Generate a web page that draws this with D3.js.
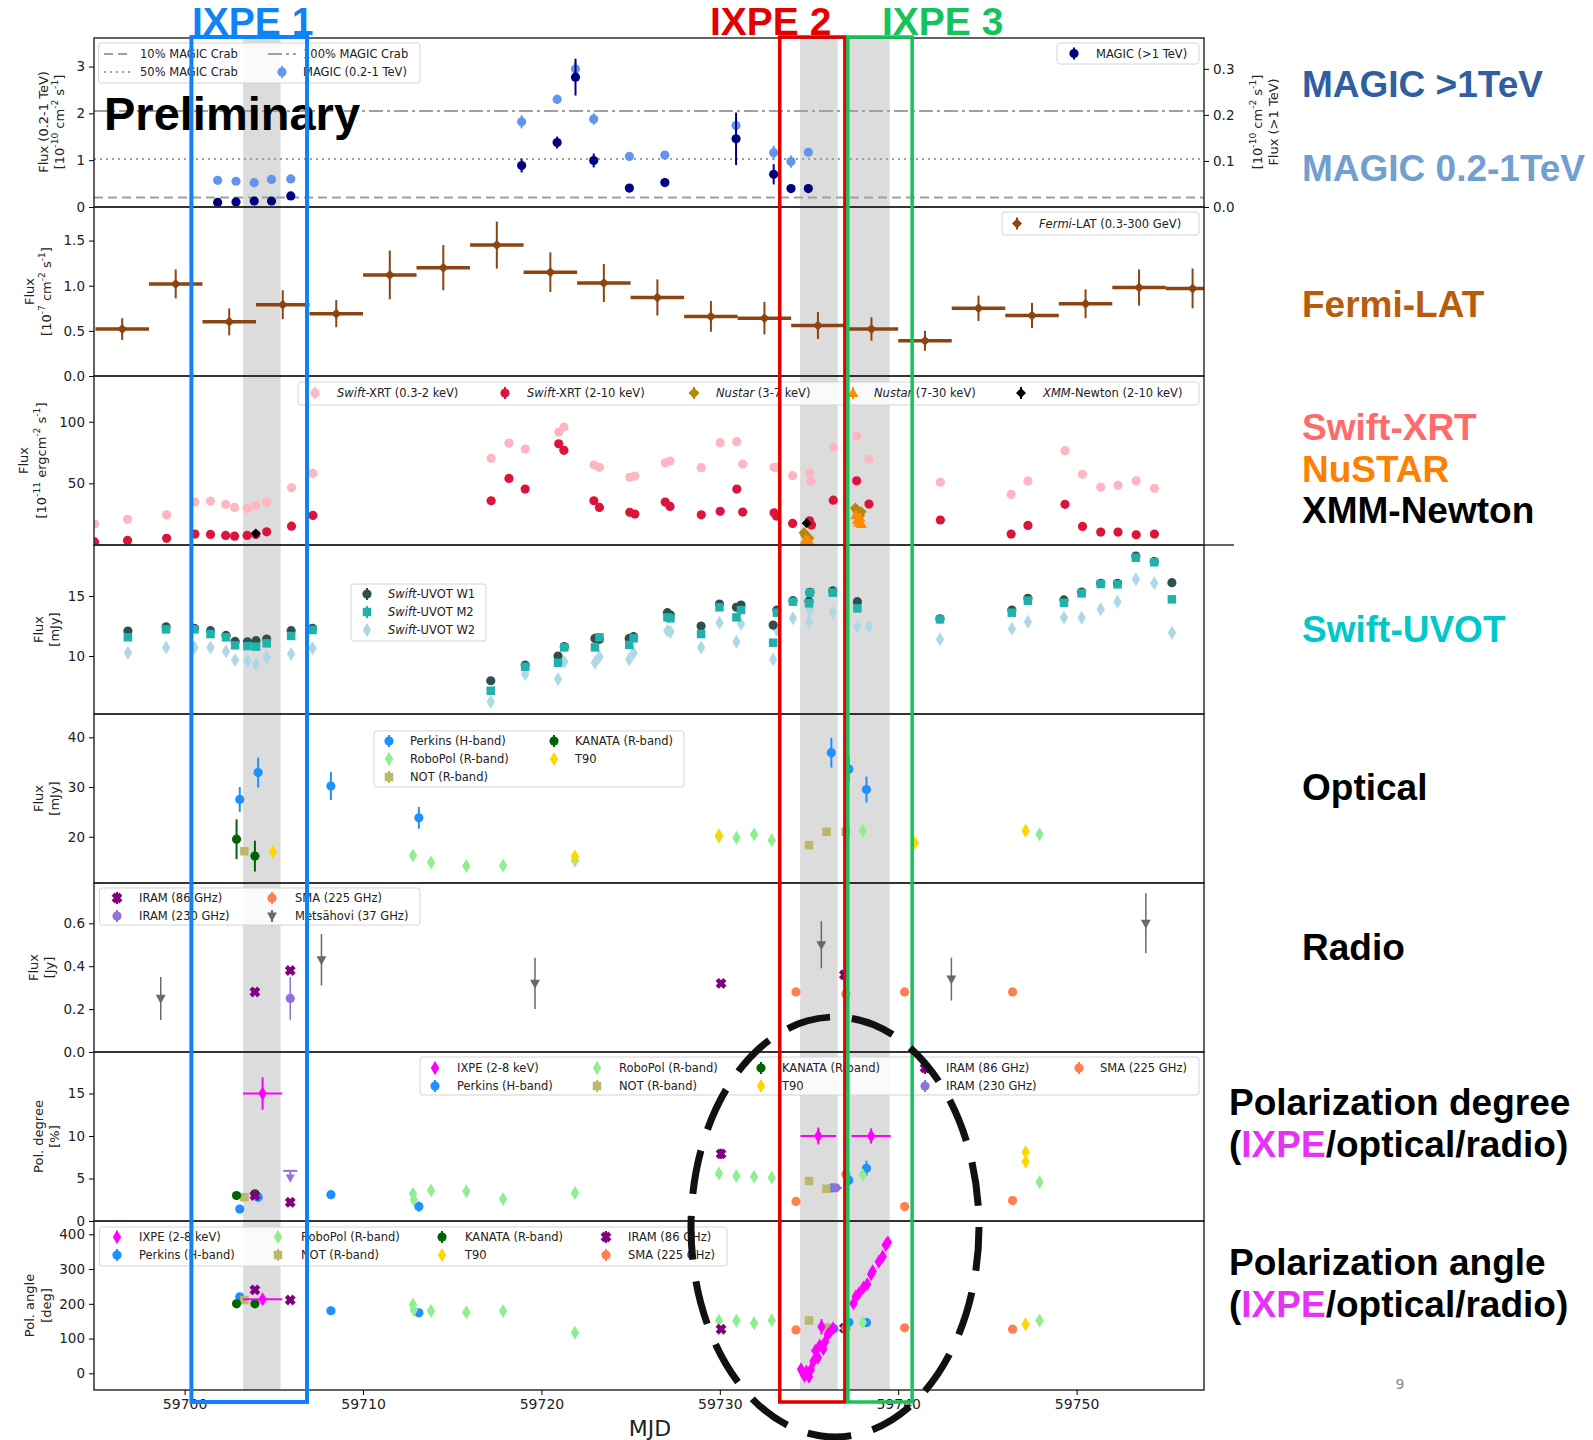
<!DOCTYPE html>
<html lang="en">
<head>
<meta charset="UTF-8">
<title>Multiwavelength light curves with IXPE windows</title>
<script src="https://d3js.org/d3.v7.min.js"></script>
<style>
  body { margin: 0; background: #fff; }
  text { font-family: "DejaVu Sans", sans-serif; }
  .big { font-family: "Liberation Sans", Arial, sans-serif; font-weight: bold; }
</style>
</head>
<body>
<div id="chart"></div>
<script>
// ---------------- data (MJD, value, yerr, xerr) ----------------
const mjdDomain = [59694.92, 59757.14];
const xTicks = [59700, 59710, 59720, 59730, 59740, 59750];
const ixpeWindows = [[59703.28, 59705.38], [59734.5, 59736.61], [59737.3, 59739.52]];

// MAGIC
const crabLevels = [0.205, 1.025, 2.05]; // 10%, 50%, 100% Crab (0.2-1 TeV units)
const magicLow = [[59701.85,0.57,0.06],[59702.88,0.55,0.06],[59703.9,0.52,0.06],[59704.87,0.59,0.06],[59705.95,0.60,0.06],
  [59718.89,1.82,0.14],[59720.88,2.30,0.10],[59721.91,2.95,0.15],[59722.93,1.88,0.12],[59724.93,1.08,0.07],
  [59726.92,1.11,0.07],[59730.91,1.74,0.15],[59733.02,1.16,0.15],[59733.99,0.97,0.13],[59734.96,1.17,0.07]];
const magicHigh = [[59701.85,0.010,0.003],[59702.88,0.011,0.003],[59703.9,0.013,0.003],[59704.87,0.013,0.003],[59705.95,0.024,0.004],
  [59718.89,0.090,0.015],[59720.88,0.140,0.013],[59721.91,0.282,0.04],[59722.93,0.101,0.015],[59724.93,0.041,0.009],
  [59726.92,0.053,0.009],[59730.91,0.148,0.057],[59733.02,0.071,0.022],[59733.99,0.040,0.008],[59734.96,0.040,0.006]];

// Fermi-LAT, 3-day bins
const fermiMjd = [59696.5,59699.5,59702.5,59705.5,59708.5,59711.5,59714.5,59717.5,59720.5,59723.5,59726.5,
  59729.5,59732.5,59735.5,59738.5,59741.5,59744.5,59747.5,59750.5,59753.5,59756.5];
const fermiFlux = [0.52,1.02,0.60,0.79,0.69,1.12,1.20,1.45,1.15,1.03,0.87,0.66,0.64,0.56,0.52,0.39,0.75,0.67,0.80,0.98,0.97];
const fermiErr = [0.12,0.16,0.15,0.16,0.15,0.27,0.25,0.26,0.22,0.21,0.20,0.17,0.18,0.15,0.13,0.11,0.14,0.14,0.16,0.20,0.22];

// X-ray
const xrtSoft = [[59694.95,17],[59696.8,20.8],[59698.99,24.5],[59700.58,34.8],[59701.45,35.6],[59702.3,33],[59702.8,30.5],
  [59703.5,29.7],[59703.99,32.1],[59704.6,34.8],[59705.99,46.4],[59707.19,58.1],[59717.18,70.3],[59718.18,82.7],[59719.09,77.8],
  [59720.97,91.6],[59721.26,95.7],[59722.94,65.1],[59723.25,63],[59724.95,54.9],[59725.24,55.9],[59726.94,66.7],[59727.21,68.1],
  [59728.96,62.7],[59730.02,83],[59730.95,83.8],[59731.28,65.7],[59733.04,63],[59733.2,63],[59734.08,56.2],[59735.03,58.6],
  [59735.1,51.9],[59736.36,79.2],[59737.67,88.4],[59738.36,69.5],[59742.36,51],[59746.33,41],[59747.27,51.9],[59749.35,76.5],
  [59750.33,57.3],[59751.35,47],[59752.32,48.4],[59753.34,52.1],[59754.36,46]];
const xrtHard = [[59694.95,2.5],[59696.8,3.7],[59698.99,5.4],[59700.58,8.9],[59701.45,8.6],[59702.3,7.8],[59702.8,7.2],
  [59703.5,7.8],[59703.99,8.5],[59704.6,10.7],[59705.99,15.3],[59707.19,24],[59717.18,35.9],[59718.18,54],[59719.09,45.4],
  [59720.97,82.1],[59721.26,76.8],[59722.94,35.9],[59723.25,30.5],[59724.95,26.5],[59725.24,25.1],[59726.94,34.8],[59727.21,31.3],
  [59728.96,24.5],[59730.02,27.3],[59730.95,45.4],[59731.28,26.7],[59733.04,26.1],[59733.17,23.5],[59734.08,17.5],[59735.03,19.6],
  [59735.14,16.2],[59736.36,36.4],[59737.67,52.1],[59738.36,33.2],[59742.36,20.3],[59746.33,8.9],[59747.27,15.9],[59749.35,33],
  [59750.33,15.1],[59751.35,10.5],[59752.32,10.5],[59753.34,8.3],[59754.36,8.9]];
const nustarLow = [[59734.72,10],[59734.8,8],[59734.9,6],[59735.0,5.5],[59737.6,30],[59737.68,28],[59737.76,26],[59737.84,24],[59737.92,27]];
const nustarHigh = [[59734.8,4],[59734.9,3.2],[59735.0,3],[59737.62,24],[59737.7,20],[59737.78,18],[59737.86,22],[59737.94,17]];
const xmm = [[59703.99,9.4],[59734.87,17.6]];

// Swift-UVOT
const uvotMjd = [59696.82,59698.96,59700.55,59701.45,59702.32,59702.83,59703.52,59704.0,59704.6,59705.97,59707.17,
  59717.16,59719.09,59720.93,59721.28,59723.0,59723.25,59724.92,59725.17,59727.06,59727.23,59728.95,59729.98,59730.93,
  59731.19,59732.99,59733.2,59734.1,59735.0,59735.05,59736.33,59737.71,59742.34,59746.37,59747.27,59749.29,59750.28,
  59751.35,59752.29,59753.32,59754.35,59755.34];
const uvotW1 = [12.08,12.44,12.31,12.11,11.72,11.22,11.19,11.28,11.42,12.11,12.31,7.94,9.25,10.0,10.78,11.47,11.39,11.47,11.61,
  13.61,13.42,12.5,14.33,14.06,14.25,12.58,13.83,14.61,14.56,15.31,15.44,14.53,13.1,13.83,14.81,14.67,15.33,16.06,16.06,18.33,17.86,16.11];
const uvotM2 = [11.56,12.22,12.22,11.83,11.56,10.89,10.83,10.78,11.06,11.67,12.17,7.11,9.11,9.44,10.72,10.72,11.56,10.92,11.47,
  13.22,13.14,11.83,14.06,13.22,13.83,11.11,13.61,14.53,14.39,15.28,15.28,13.97,13.06,13.61,14.61,14.44,15.22,16.0,15.97,18.19,17.81,14.72];
const uvotW2 = [10.28,10.72,10.72,10.72,10.39,9.67,9.58,9.33,9.89,10.17,10.64,6.19,8.5,8.08,9.53,9.44,9.94,9.72,10.28,
  12.11,12.03,10.72,12.78,11.19,12.67,9.72,12.17,13.14,12.86,13.83,13.61,12.44,11.39,12.28,12.86,13.22,13.19,13.89,14.53,16.39,16.06,11.94];
const uvotW2only = [[59738.35,12.44]];

// Optical flux
const perkinsFlux = [[59703.09,27.5,2.5],[59704.12,32.9,3.0],[59708.2,30.2,2.8],[59713.13,23.8,2.2],[59736.25,36.9,3.0],[59737.23,33.6,2.6],[59738.22,29.5,2.6]];
const kanataFlux = [[59702.91,19.5,4.0],[59703.94,16.1,3.1]];
const robopolFlux = [[59712.8,16.2,0.8],[59713.81,14.8,0.6],[59715.79,14.1,0.5],[59717.85,14.2,0.5],[59721.88,15.2,0.6],[59729.95,20.0,0.6],
  [59730.93,19.8,0.6],[59731.92,20.5,0.6],[59732.91,19.3,0.6],[59738.01,21.2,0.6],[59747.92,20.5,0.6]];
const t90Flux = [[59704.94,17.0,0.8],[59721.88,16.0,0.8],[59729.95,20.3,0.8],[59740.93,18.8,0.8],[59747.14,21.2,1.0]];
const notFlux = [[59703.35,17.1],[59735.0,18.3],[59735.98,21.0],[59737.05,21.0]];

// Radio flux
const metsFlux = [[59698.66,0.25,0.10],[59707.67,0.43,0.12],[59719.64,0.32,0.12],[59735.69,0.50,0.11],[59742.98,0.34,0.10],[59753.88,0.60,0.14]];
const iram86Flux = [[59703.94,0.28,0.012],[59705.92,0.38,0.015],[59730.07,0.32,0.012],[59736.98,0.36,0.012]];
const iram230Flux = [[59705.92,0.25,0.10]];
const smaFlux = [[59734.27,0.28,0.015],[59737.06,0.27,0.015],[59740.36,0.28,0.015],[59746.41,0.28,0.015]];

// Polarization degree [%]
const ixpeDeg = [[59704.37,15.0,1.9,1.1],[59735.52,10.0,1.0,1.0],[59738.48,10.0,0.9,1.1]];
const perkinsDeg = [[59703.09,1.4,0.4],[59704.12,2.8,0.5],[59708.2,3.1,0.5],[59713.13,1.7,0.6],[59736.3,3.9,0.5],[59737.23,4.8,0.6],[59738.22,6.2,0.9]];
const robopolDeg = [[59712.8,3.2,0.5],[59712.85,2.5,0.5],[59713.81,3.6,0.5],[59715.79,3.5,0.5],[59717.85,2.6,0.5],[59721.88,3.3,0.5],
  [59729.95,5.6,0.5],[59730.93,5.3,0.5],[59731.92,5.2,0.5],[59732.91,5.1,0.5],[59738.01,5.4,0.5],[59747.92,4.6,0.5]];
const kanataDeg = [[59702.91,3.0,0.3],[59703.94,3.2,0.4]];
const notDeg = [[59703.35,2.8],[59735.0,4.7],[59735.98,3.8]];
const t90Deg = [[59747.14,8.1,0.6],[59747.14,7.0,0.6]];
const iram86Deg = [[59703.94,3.0,0.4],[59705.92,2.2,0.4],[59730.07,7.9,0.6]];
const iram230Deg = [[59736.5,3.9,0,0.35]];
const iram230DegLimit = [[59705.92,5.9]];
const smaDeg = [[59734.27,2.3,0.3],[59737.06,5.5,0.3],[59740.36,1.7,0.3],[59746.41,2.4,0.3]];

// Polarization angle [deg]
const ixpeAng = [[59704.37,213,6,1.1],
  [59734.55,12,10],[59734.65,3,10],[59734.75,-8,10],[59734.85,5,10],[59735.0,-10,10],[59735.1,10,12],[59735.25,35,14],
  [59735.35,65,15],[59735.5,45,15],[59735.6,80,14],[59735.7,134,22],[59735.8,70,14],[59735.9,90,14],[59736.05,112,12],
  [59736.2,120,12],[59736.35,130,12],
  [59737.49,201,10],[59737.62,221,10],[59737.79,230,10],[59738.05,247,10],[59738.26,256,10],[59738.48,285,10],
  [59738.57,294,10],[59738.91,321,10],[59739.13,336,10],[59739.3,369,10],[59739.42,377,10]];
const perkinsAng = [[59703.09,220,5],[59708.2,180,5],[59713.13,174,8],[59736.4,128,6],[59737.23,147,6],[59738.22,146,6]];
const robopolAng = [[59712.8,197,6],[59712.85,182,6],[59713.81,179,6],[59715.79,176,6],[59717.85,179,6],[59721.88,117,6],
  [59729.95,151,6],[59730.93,151,6],[59731.92,144,6],[59732.91,153,6],[59738.01,146,6],[59747.92,152,6]];
const kanataAng = [[59702.91,200,5],[59703.94,200,5]];
const notAng = [[59703.35,211],[59735.0,152],[59735.98,132]];
const t90Ang = [[59747.14,141,8]];
const iram86Ang = [[59703.94,240,6],[59705.92,211,6],[59730.07,127,6],[59736.98,130,6]];
const smaAng = [[59734.27,125,5],[59737.06,130,5],[59740.36,131,5],[59746.41,127,5]];

// ---------------- styles ----------------
const st = {
  magicLow: {color: "#6495ed", shape: "o", r: 4.6},
  magicHigh: {color: "#000080", shape: "o", r: 4.6},
  fermi: {color: "#8b4513", shape: "D", r: 5},
  xrtSoft: {color: "#ffb6c1", shape: "o", r: 4.6},
  xrtHard: {color: "#dc143c", shape: "o", r: 4.6},
  nustarLow: {color: "#b8860b", shape: "D", r: 5.5},
  nustarHigh: {color: "#ff8c00", shape: "^", r: 6},
  xmm: {color: "#000000", shape: "D", r: 5},
  w1: {color: "#2f4f4f", shape: "o", r: 4.6},
  m2: {color: "#20b2aa", shape: "s", r: 5},
  w2: {color: "#add8e6", shape: "d", r: 7},
  perkins: {color: "#1e90ff", shape: "o", r: 4.6},
  robopol: {color: "#90ee90", shape: "d", r: 7},
  kanata: {color: "#006400", shape: "o", r: 4.6},
  not: {color: "#bdb76b", shape: "s", r: 5},
  t90: {color: "#ffd700", shape: "d", r: 7},
  iram86: {color: "#800080", shape: "X", r: 5.5},
  iram230: {color: "#9370db", shape: "o", r: 4.6},
  sma: {color: "#ff7f50", shape: "o", r: 4.6},
  mets: {color: "#696969", shape: "v", r: 5.5},
  ixpe: {color: "#ff00ff", shape: "d", r: 7}
};

// ---------------- layout ----------------
const W = 1593, H = 1440;
const plotLeft = 94, plotRight = 1204, plotTop = 38, panelH = 169;
const x = d3.scaleLinear().domain(mjdDomain).range([plotLeft, plotRight]);

const panelDefs = [
  {domain: [0, 3.61], ticks: [0, 1, 2, 3], fmt: d3.format("d"), label: ["Flux (0.2-1 TeV)", "[10^{-10} cm^{-2} s^{-1}]"], lx: [43, 59], ly: 122},
  {domain: [0, 1.872], ticks: [0, 0.5, 1.0, 1.5], fmt: d3.format(".1f"), label: ["Flux", "[10^{-7} cm^{-2} s^{-1}]"], lx: [29, 46]},
  {domain: [0, 137.1], ticks: [50, 100], fmt: d3.format("d"), label: ["Flux", "[10^{-11} ergcm^{-2} s^{-1}]"], lx: [23, 41]},
  {domain: [5.17, 19.25], ticks: [10, 15], fmt: d3.format("d"), label: ["Flux", "[mJy]"], lx: [38, 54]},
  {domain: [10.69, 44.69], ticks: [20, 30, 40], fmt: d3.format("d"), label: ["Flux", "[mJy]"], lx: [38, 54]},
  {domain: [0, 0.788], ticks: [0, 0.2, 0.4, 0.6], fmt: d3.format(".1f"), label: ["Flux", "[Jy]"], lx: [33, 49]},
  {domain: [0, 19.88], ticks: [0, 5, 10, 15], fmt: d3.format("d"), label: ["Pol. degree", "[%]"], lx: [38, 54]},
  {domain: [-48, 438.3], ticks: [0, 100, 200, 300, 400], fmt: d3.format("d"), label: ["Pol. angle", "[deg]"], lx: [29, 46]}
];

const svg = d3.select("#chart").append("svg").attr("width", W).attr("height", H);
svg.append("rect").attr("width", W).attr("height", H).attr("fill", "#fff");
const defs = svg.append("defs");

const panels = panelDefs.map((p, i) => {
  const top = plotTop + i * panelH;
  const y = d3.scaleLinear().domain(p.domain).range([top + panelH, top]);
  defs.append("clipPath").attr("id", "clip" + i).append("rect")
    .attr("x", plotLeft).attr("y", top).attr("width", plotRight - plotLeft).attr("height", panelH);
  return Object.assign({}, p, {top, y, i});
});
const yMagicRight = d3.scaleLinear().domain([0, 0.367]).range([plotTop + panelH, plotTop]);

// IXPE observation windows (grey bands)
svg.append("g").selectAll("rect").data(ixpeWindows).join("rect")
  .attr("x", d => x(d[0])).attr("width", d => x(d[1]) - x(d[0]))
  .attr("y", plotTop).attr("height", panelH * 8)
  .attr("fill", "#dcdcdc");

// ---------------- helpers ----------------
function markerPath(shape, r) {
  switch (shape) {
    case "D": return `M0,${-r}L${r},0L0,${r}L${-r},0Z`;
    case "d": return `M0,${-r}L${r * 0.6},0L0,${r}L${-r * 0.6},0Z`;
    case "s": { const s = r * 0.85; return `M${-s},${-s}H${s}V${s}H${-s}Z`; }
    case "^": return `M0,${-r}L${r * 0.9},${r * 0.65}L${-r * 0.9},${r * 0.65}Z`;
    case "v": return `M0,${r}L${r * 0.9},${-r * 0.65}L${-r * 0.9},${-r * 0.65}Z`;
    case "X": { const a = r * 0.4;
      return `M${-a},${-r}H${a}V${-a}H${r}V${a}H${a}V${r}H${-a}V${a}H${-r}V${-a}H${-a}Z`; }
    default: return `M${r},0A${r},${r} 0 1,1 ${-r},0A${r},${r} 0 1,1 ${r},0Z`;
  }
}

function plotSeries(layer, y, data, s, opt = {}) {
  const g = layer.append("g");
  g.selectAll("line.ye").data(data.filter(d => d[2] > 0)).join("line").attr("class", "ye")
    .attr("x1", d => x(d[0])).attr("x2", d => x(d[0]))
    .attr("y1", d => y(d[1] - d[2])).attr("y2", d => y(d[1] + d[2]))
    .attr("stroke", s.color).attr("stroke-width", opt.ew || 2);
  g.selectAll("line.xe").data(data.filter(d => d[3] > 0)).join("line").attr("class", "xe")
    .attr("x1", d => x(d[0] - d[3])).attr("x2", d => x(d[0] + d[3]))
    .attr("y1", d => y(d[1])).attr("y2", d => y(d[1]))
    .attr("stroke", s.color).attr("stroke-width", opt.xw || 2);
  g.selectAll("path").data(data).join("path")
    .attr("d", markerPath(s.shape, s.r))
    .attr("transform", d => `translate(${x(d[0])},${y(d[1])})${s.shape === "X" ? " rotate(45)" : ""}`)
    .attr("fill", s.color);
}

function richText(t, str, fs) {
  const re = /\^\{([^}]*)\}/g;
  let last = 0, m, shift = 0;
  while ((m = re.exec(str))) {
    if (m.index > last) t.append("tspan").attr("dy", shift ? fs * 0.42 : null).text(str.slice(last, m.index)), shift = 0;
    t.append("tspan").attr("dy", -fs * 0.42).attr("font-size", fs * 0.7).text(m[1]);
    shift = 1;
    last = re.lastIndex;
  }
  if (last < str.length) t.append("tspan").attr("dy", shift ? fs * 0.42 : null).text(str.slice(last));
}

// ---------------- panels ----------------
panels.forEach(p => { p.layer = svg.append("g").attr("clip-path", `url(#clip${p.i})`); });

// MAGIC
const [pM, pF, pX, pU, pO, pR, pD, pA] = panels;
const crabStyles = ["9 5", "2 4", "14 4 3 4"];
pM.layer.selectAll("line.crab").data(crabLevels).join("line")
  .attr("x1", plotLeft).attr("x2", plotRight)
  .attr("y1", d => pM.y(d)).attr("y2", d => pM.y(d))
  .attr("stroke", "#a0a0a0").attr("stroke-width", 2)
  .attr("stroke-dasharray", (d, i) => crabStyles[i]);
plotSeries(pM.layer, pM.y, magicLow, st.magicLow);
plotSeries(pM.layer, yMagicRight, magicHigh, st.magicHigh);

// Fermi
const fermiData = fermiMjd.map((m, i) => [m, fermiFlux[i], fermiErr[i], 1.5]);
plotSeries(pF.layer, pF.y, fermiData, st.fermi, {ew: 2, xw: 3.5});

// X-ray
plotSeries(pX.layer, pX.y, xrtSoft, st.xrtSoft);
plotSeries(pX.layer, pX.y, xrtHard, st.xrtHard);
plotSeries(pX.layer, pX.y, nustarLow, st.nustarLow);
plotSeries(pX.layer, pX.y, nustarHigh, st.nustarHigh);
plotSeries(pX.layer, pX.y, xmm, st.xmm);

// UVOT
plotSeries(pU.layer, pU.y, uvotMjd.map((m, i) => [m, uvotW2[i], 0.2]), st.w2);
plotSeries(pU.layer, pU.y, uvotW2only.map(d => [d[0], d[1], 0.2]), st.w2);
plotSeries(pU.layer, pU.y, uvotMjd.map((m, i) => [m, uvotW1[i], 0.25]), st.w1);
plotSeries(pU.layer, pU.y, uvotMjd.map((m, i) => [m, uvotM2[i], 0.25]), st.m2);

// Optical
plotSeries(pO.layer, pO.y, perkinsFlux, st.perkins);
plotSeries(pO.layer, pO.y, robopolFlux, st.robopol);
plotSeries(pO.layer, pO.y, notFlux, st.not);
plotSeries(pO.layer, pO.y, kanataFlux, st.kanata);
plotSeries(pO.layer, pO.y, t90Flux, st.t90);

// Radio
plotSeries(pR.layer, pR.y, iram86Flux, st.iram86);
plotSeries(pR.layer, pR.y, iram230Flux, st.iram230, {ew: 1.5});
plotSeries(pR.layer, pR.y, smaFlux, st.sma);
plotSeries(pR.layer, pR.y, metsFlux, st.mets, {ew: 1.5});

// Polarization degree
plotSeries(pD.layer, pD.y, perkinsDeg, st.perkins);
plotSeries(pD.layer, pD.y, robopolDeg, st.robopol);
plotSeries(pD.layer, pD.y, notDeg, st.not);
plotSeries(pD.layer, pD.y, kanataDeg, st.kanata);
plotSeries(pD.layer, pD.y, t90Deg, st.t90);
plotSeries(pD.layer, pD.y, iram86Deg, st.iram86);
plotSeries(pD.layer, pD.y, iram230Deg, st.iram230);
plotSeries(pD.layer, pD.y, smaDeg, st.sma);
iram230DegLimit.forEach(d => {
  const g = pD.layer.append("g").attr("stroke", st.iram230.color).attr("stroke-width", 2);
  g.append("line").attr("x1", x(d[0]) - 7).attr("x2", x(d[0]) + 7).attr("y1", pD.y(d[1])).attr("y2", pD.y(d[1]));
  g.append("line").attr("x1", x(d[0])).attr("x2", x(d[0])).attr("y1", pD.y(d[1])).attr("y2", pD.y(d[1] - 0.9));
  pD.layer.append("path").attr("d", markerPath("v", 5)).attr("fill", st.iram230.color)
    .attr("transform", `translate(${x(d[0])},${pD.y(d[1] - 0.8)})`);
});
plotSeries(pD.layer, pD.y, ixpeDeg, st.ixpe);

// Polarization angle
plotSeries(pA.layer, pA.y, perkinsAng, st.perkins);
plotSeries(pA.layer, pA.y, robopolAng, st.robopol);
plotSeries(pA.layer, pA.y, notAng, st.not);
plotSeries(pA.layer, pA.y, kanataAng, st.kanata);
plotSeries(pA.layer, pA.y, t90Ang, st.t90);
plotSeries(pA.layer, pA.y, iram86Ang, st.iram86);
plotSeries(pA.layer, pA.y, smaAng, st.sma);
plotSeries(pA.layer, pA.y, ixpeAng, st.ixpe);

// ---------------- axes and frames ----------------
panels.forEach(p => {
  svg.append("rect").attr("x", plotLeft).attr("y", p.top).attr("width", plotRight - plotLeft).attr("height", panelH)
    .attr("fill", "none").attr("stroke", "#222").attr("stroke-width", 1.4);
  const ax = svg.append("g").attr("transform", `translate(${plotLeft},0)`)
    .call(d3.axisLeft(p.y).tickValues(p.ticks).tickFormat(p.fmt).tickSize(5).tickPadding(4));
  ax.select(".domain").remove();
  ax.selectAll("text").attr("font-size", 13.5).attr("fill", "#222").attr("font-family", "DejaVu Sans, sans-serif");
  const cy = p.ly || (p.top + panelH / 2);
  p.label.forEach((lab, k) => {
    const t = svg.append("text").attr("transform", `translate(${p.lx[k]},${cy}) rotate(-90)`)
      .attr("text-anchor", "middle").attr("dy", "0.35em").attr("font-size", 13).attr("fill", "#222");
    richText(t, lab, 13);
  });
});
// right axis for MAGIC >1 TeV
const axR = svg.append("g").attr("transform", `translate(${plotRight},0)`)
  .call(d3.axisRight(yMagicRight).tickValues([0, 0.1, 0.2, 0.3]).tickFormat(d3.format(".1f")).tickSize(5).tickPadding(4));
axR.select(".domain").remove();
axR.selectAll("text").attr("font-size", 13.5).attr("fill", "#222");
[["[10^{-10} cm^{-2} s^{-1}]", 1257], ["Flux (>1 TeV)", 1273]].forEach(([lab, lx]) => {
  const t = svg.append("text").attr("transform", `translate(${lx},122) rotate(-90)`)
    .attr("text-anchor", "middle").attr("dy", "0.35em").attr("font-size", 13).attr("fill", "#222");
  richText(t, lab, 13);
});
svg.append("line").attr("x1", plotRight).attr("x2", plotRight + 30).attr("y1", pU.top).attr("y2", pU.top)
  .attr("stroke", "#222").attr("stroke-width", 1.4);

// bottom x axis
const axB = svg.append("g").attr("transform", `translate(0,${plotTop + panelH * 8})`)
  .call(d3.axisBottom(x).tickValues(xTicks).tickFormat(d3.format("d")).tickSize(5).tickPadding(4));
axB.select(".domain").remove();
axB.selectAll("text").attr("font-size", 14).attr("fill", "#222");
svg.append("text").attr("x", 650).attr("y", 1436).attr("text-anchor", "middle")
  .attr("font-size", 22).attr("fill", "#222").text("MJD");

// ---------------- legends ----------------
function drawLegend(box, items) {
  const g = svg.append("g");
  g.append("rect").attr("x", box[0]).attr("y", box[1]).attr("width", box[2] - box[0]).attr("height", box[3] - box[1])
    .attr("rx", 3).attr("fill", "#fff").attr("fill-opacity", 0.85).attr("stroke", "#d4d4d4");
  items.forEach(it => {
    if (it.dash) {
      g.append("line").attr("x1", it.mx - 14).attr("x2", it.mx + 14).attr("y1", it.y).attr("y2", it.y)
        .attr("stroke", "#a0a0a0").attr("stroke-width", 2).attr("stroke-dasharray", it.dash);
    } else {
      g.append("line").attr("x1", it.mx).attr("x2", it.mx).attr("y1", it.y - 6).attr("y2", it.y + 6)
        .attr("stroke", it.s.color).attr("stroke-width", 2);
      g.append("path").attr("d", markerPath(it.s.shape, it.s.r))
        .attr("transform", `translate(${it.mx},${it.y})${it.s.shape === "X" ? " rotate(45)" : ""}`)
        .attr("fill", it.s.color);
    }
    const t = g.append("text").attr("x", it.tx).attr("y", it.y).attr("dy", "0.35em")
      .attr("font-size", 11.5).attr("fill", "#222");
    it.label.split("*").forEach((seg, k) => {
      if (seg) t.append("tspan").attr("font-style", k % 2 ? "italic" : null).text(seg);
    });
  });
}

drawLegend([98.5, 43, 420, 83], [
  {dash: crabStyles[0], mx: 118, y: 54, tx: 140, label: "10% MAGIC Crab"},
  {dash: crabStyles[1], mx: 118, y: 72, tx: 140, label: "50% MAGIC Crab"},
  {dash: crabStyles[2], mx: 282, y: 54, tx: 303, label: "100% MAGIC Crab"},
  {s: st.magicLow, mx: 282, y: 72, tx: 303, label: "MAGIC (0.2-1 TeV)"}
]);
drawLegend([1057, 43, 1199, 64], [{s: st.magicHigh, mx: 1074, y: 53.5, tx: 1096, label: "MAGIC (>1 TeV)"}]);
drawLegend([1002, 212, 1199, 235], [{s: st.fermi, mx: 1017, y: 223.5, tx: 1039, label: "*Fermi*-LAT (0.3-300 GeV)"}]);
drawLegend([298, 382, 1199, 405], [
  {s: st.xrtSoft, mx: 315, y: 393, tx: 337, label: "*Swift*-XRT (0.3-2 keV)"},
  {s: st.xrtHard, mx: 505, y: 393, tx: 527, label: "*Swift*-XRT (2-10 keV)"},
  {s: st.nustarLow, mx: 694, y: 393, tx: 716, label: "*Nustar* (3-7 keV)"},
  {s: st.nustarHigh, mx: 853, y: 393, tx: 874, label: "*Nustar* (7-30 keV)"},
  {s: st.xmm, mx: 1021, y: 393, tx: 1043, label: "*XMM*-Newton (2-10 keV)"}
]);
drawLegend([351, 584, 486, 641], [
  {s: st.w1, mx: 367, y: 594, tx: 388, label: "*Swift*-UVOT W1"},
  {s: st.m2, mx: 367, y: 612, tx: 388, label: "*Swift*-UVOT M2"},
  {s: st.w2, mx: 367, y: 630, tx: 388, label: "*Swift*-UVOT W2"}
]);
drawLegend([374, 731, 684, 787], [
  {s: st.perkins, mx: 389, y: 741, tx: 410, label: "Perkins (H-band)"},
  {s: st.robopol, mx: 389, y: 759, tx: 410, label: "RoboPol (R-band)"},
  {s: st.not, mx: 389, y: 777, tx: 410, label: "NOT (R-band)"},
  {s: st.kanata, mx: 554, y: 741, tx: 575, label: "KANATA (R-band)"},
  {s: st.t90, mx: 554, y: 759, tx: 575, label: "T90"}
]);
drawLegend([99.5, 888, 420, 925], [
  {s: st.iram86, mx: 117, y: 898, tx: 139, label: "IRAM (86 GHz)"},
  {s: st.iram230, mx: 117, y: 916, tx: 139, label: "IRAM (230 GHz)"},
  {s: st.sma, mx: 272, y: 898, tx: 295, label: "SMA (225 GHz)"},
  {s: st.mets, mx: 272, y: 916, tx: 295, label: "Metsähovi (37 GHz)"}
]);
drawLegend([420, 1057, 1199, 1095], [
  {s: st.ixpe, mx: 435, y: 1068, tx: 457, label: "IXPE (2-8 keV)"},
  {s: st.perkins, mx: 435, y: 1086, tx: 457, label: "Perkins (H-band)"},
  {s: st.robopol, mx: 597, y: 1068, tx: 619, label: "RoboPol (R-band)"},
  {s: st.not, mx: 597, y: 1086, tx: 619, label: "NOT (R-band)"},
  {s: st.kanata, mx: 761, y: 1068, tx: 782, label: "KANATA (R-band)"},
  {s: st.t90, mx: 761, y: 1086, tx: 782, label: "T90"},
  {s: st.iram86, mx: 925, y: 1068, tx: 946, label: "IRAM (86 GHz)"},
  {s: st.iram230, mx: 925, y: 1086, tx: 946, label: "IRAM (230 GHz)"},
  {s: st.sma, mx: 1079, y: 1068, tx: 1100, label: "SMA (225 GHz)"}
]);
drawLegend([99.5, 1227, 727, 1266], [
  {s: st.ixpe, mx: 117, y: 1237, tx: 139, label: "IXPE (2-8 keV)"},
  {s: st.perkins, mx: 117, y: 1255, tx: 139, label: "Perkins (H-band)"},
  {s: st.robopol, mx: 278, y: 1237, tx: 301, label: "RoboPol (R-band)"},
  {s: st.not, mx: 278, y: 1255, tx: 301, label: "NOT (R-band)"},
  {s: st.kanata, mx: 442, y: 1237, tx: 465, label: "KANATA (R-band)"},
  {s: st.t90, mx: 442, y: 1255, tx: 465, label: "T90"},
  {s: st.iram86, mx: 606, y: 1237, tx: 628, label: "IRAM (86 GHz)"},
  {s: st.sma, mx: 606, y: 1255, tx: 628, label: "SMA (225 GHz)"}
]);

// ---------------- annotations ----------------
svg.append("text").attr("class", "big").attr("x", 104).attr("y", 130)
  .attr("font-size", 47).attr("fill", "#000").text("Preliminary");

const ixpeBoxes = [
  {label: "IXPE 1", x0: 59700.38, x1: 59706.86, color: "#0f83f5", w: 4},
  {label: "IXPE 2", x0: 59733.36, x1: 59737.01, color: "#e30000", w: 3.5},
  {label: "IXPE 3", x0: 59737.18, x1: 59740.78, color: "#14c35a", w: 3.5}
];
const labelX = [192, 710, 882];
ixpeBoxes.forEach((b, i) => {
  svg.append("rect").attr("x", x(b.x0)).attr("y", 37).attr("width", x(b.x1) - x(b.x0)).attr("height", 1402 - 37)
    .attr("fill", "none").attr("stroke", b.color).attr("stroke-width", b.w);
  svg.append("text").attr("class", "big").attr("x", labelX[i]).attr("y", 35)
    .attr("font-size", 39).attr("fill", b.color).text(b.label);
});

svg.append("ellipse").attr("cx", 835).attr("cy", 1227).attr("rx", 144).attr("ry", 210)
  .attr("fill", "none").attr("stroke", "#111").attr("stroke-width", 7).attr("stroke-dasharray", "44 22");

const sideLabels = [
  {text: "MAGIC >1TeV", y: 97, color: "#2f5f9f"},
  {text: "MAGIC 0.2-1TeV", y: 181, color: "#729fcf"},
  {text: "Fermi-LAT", y: 317, color: "#b85c0c"},
  {text: "Swift-XRT", y: 440, color: "#ff6b6b"},
  {text: "NuSTAR", y: 482, color: "#ff8000"},
  {text: "XMM-Newton", y: 523, color: "#000"},
  {text: "Swift-UVOT", y: 642, color: "#00c8c8"},
  {text: "Optical", y: 800, color: "#000"},
  {text: "Radio", y: 960, color: "#000"}
];
sideLabels.forEach(l => svg.append("text").attr("class", "big").attr("x", 1302).attr("y", l.y)
  .attr("font-size", 37).attr("fill", l.color).text(l.text));
[["Polarization degree", 1115], ["Polarization angle", 1275]].forEach(([txt, yy]) => {
  svg.append("text").attr("class", "big").attr("x", 1229).attr("y", yy).attr("font-size", 37).attr("fill", "#000").text(txt);
  const t = svg.append("text").attr("class", "big").attr("x", 1229).attr("y", yy + 42).attr("font-size", 37).attr("fill", "#000");
  t.append("tspan").text("(");
  t.append("tspan").attr("fill", "#e632f5").text("IXPE");
  t.append("tspan").text("/optical/radio)");
});
svg.append("text").attr("x", 1400).attr("y", 1389).attr("text-anchor", "middle")
  .attr("font-size", 14).attr("fill", "#888").attr("font-family", "Liberation Sans, Arial, sans-serif").text("9");
</script>
</body>
</html>
